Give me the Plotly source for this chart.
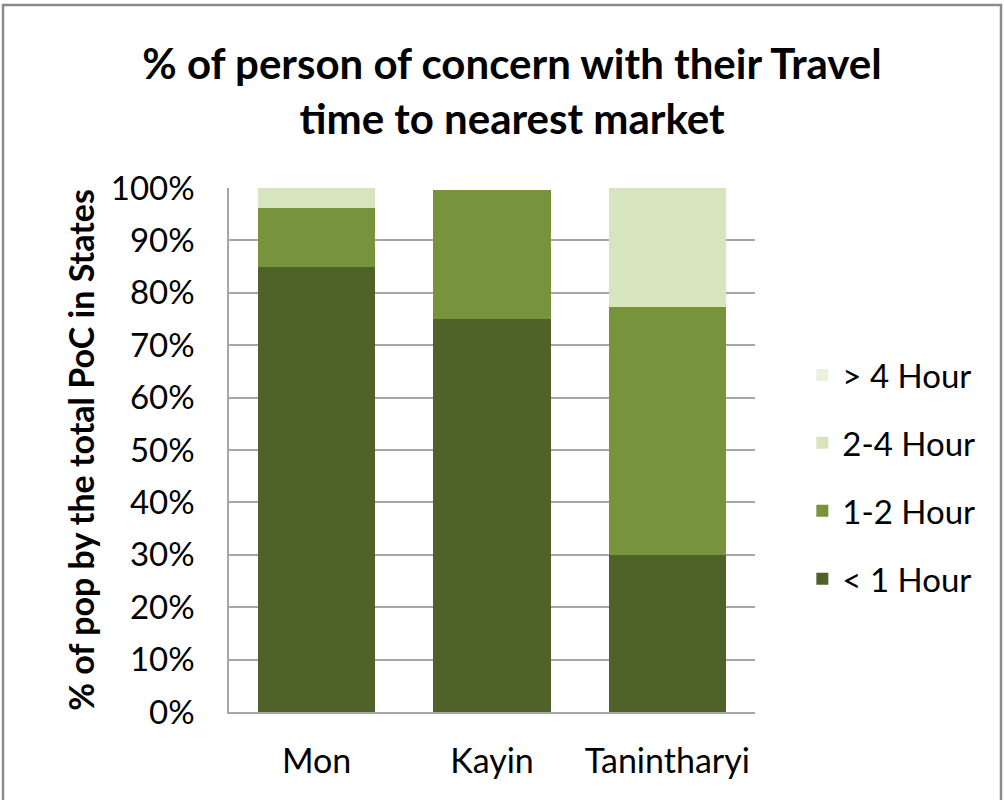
import plotly.graph_objects as go

states = ["Mon", "Kayin", "Tanintharyi"]
lt1 = [85.0, 75.0, 30.0]
h1_2 = [11.2, 24.6, 47.3]
h2_4 = [3.8, 0.0, 22.7]
gt4 = [0.0, 0.0, 0.0]

series = [
    ("< 1 Hour", lt1, "#4F6228", 4),
    ("1-2 Hour", h1_2, "#77933C", 3),
    ("2-4 Hour", h2_4, "#D7E4BD", 2),
    ("> 4 Hour", gt4, "#EBF1DE", 1),
]

fig = go.Figure()
for name, vals, col, rank in series:
    fig.add_trace(go.Bar(
        x=states, y=vals, name=name, legendgroup=name, legendrank=rank,
        marker=dict(color=col, line=dict(width=0)),
    ))

L, R, T, B = 229, 755, 188, 712
W, H = 1004, 800

fig.update_layout(
    width=W, height=H,
    barmode="stack", bargap=0.33,
    paper_bgcolor="white", plot_bgcolor="white",
    margin=dict(l=L, r=W - R, t=T, b=H - B),
    font=dict(family="Lato, Open Sans, sans-serif", size=33, color="#000000"),
    title=dict(
        text="<b>% of person of concern with their Travel<br>time to nearest market</b>",
        x=0.51, xanchor="center", yref="container", y=1 - 79 / 800, yanchor="middle",
        font=dict(size=42, family="Lato, sans-serif"),
    ),
    legend=dict(
        x=1.09, xanchor="left", y=(B - 477) / (B - T), yanchor="middle",
        traceorder="grouped", tracegroupgap=22,
        font=dict(size=33), itemwidth=30,
    ),
    yaxis=dict(
        range=[0, 100], dtick=10, ticksuffix="%",
        showgrid=True, gridcolor="#A6A6A6", gridwidth=1.5,
        showline=True, linecolor="#A6A6A6", linewidth=1.5,
        ticks="", ticklabelstandoff=26, tickfont=dict(size=33),
        zeroline=False,
        title=dict(text="<b>% of pop by the total PoC in States</b>", font=dict(size=34), standoff=6),
    ),
    xaxis=dict(
        showline=True, linecolor="#A6A6A6", linewidth=1.5,
        ticks="", ticklabelstandoff=18, tickfont=dict(size=34),
    ),
)

fig.add_shape(
    type="rect", xref="paper", yref="paper",
    x0=(3 - L) / (R - L), x1=(1001 - L) / (R - L),
    y0=(B - 820) / (B - T), y1=(B - 5) / (B - T),
    line=dict(color="#8C8C8C", width=2.5), layer="below",
)

fig.write_html("out.html", config={"displayModeBar": False},
               post_script="document.body.style.margin='0';")
